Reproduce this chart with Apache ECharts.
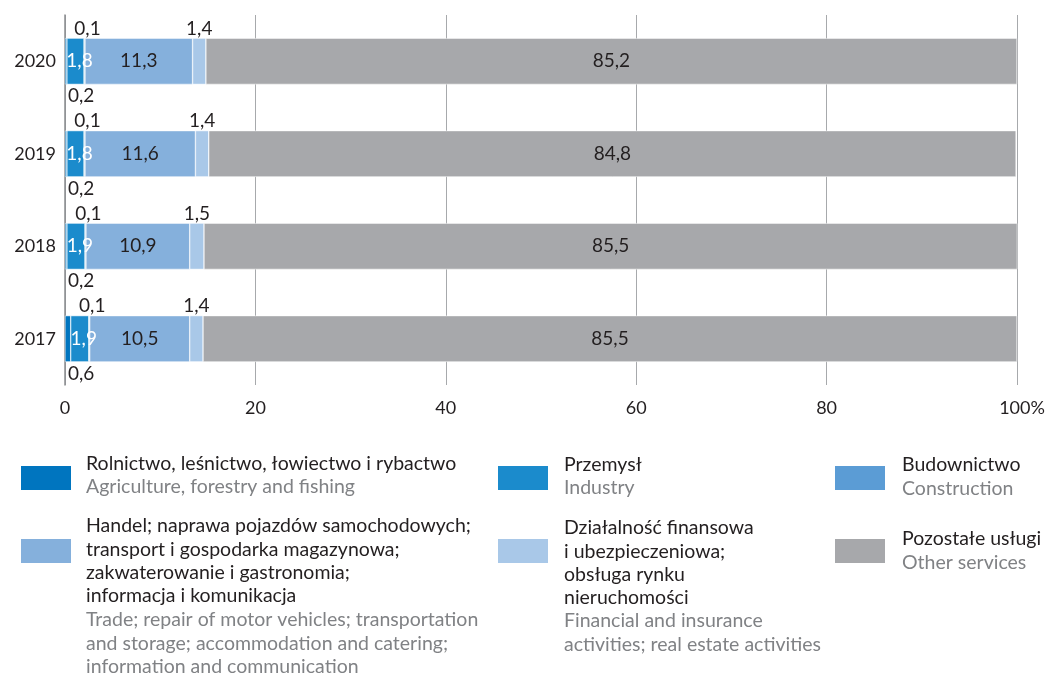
<!DOCTYPE html>
<html>
<head>
<meta charset="utf-8">
<script src="https://cdn.jsdelivr.net/npm/echarts@6/dist/echarts.min.js"></script>
<style>
  html, body { margin: 0; padding: 0; background: #fff; }
  #chart { width: 1051px; height: 677px; }
</style>
</head>
<body>
<div id="chart"></div>
<script>
// lata (od dołu do góry)
const years = ['2017', '2018', '2019', '2020']

// udziały sekcji w %
const agriculture = [0.6, 0.2, 0.2, 0.2]
const industry = [1.9, 1.9, 1.8, 1.8]
const construction = [0.1, 0.1, 0.1, 0.1]
const trade = [10.5, 10.9, 11.6, 11.3]
const finance = [1.4, 1.5, 1.4, 1.4]
const otherServices = [85.5, 85.5, 84.8, 85.2]

const xTicks = [0, 20, 40, 60, 80, 100]

// nazwy serii i opisy legendy
const seriesNames = ['Rolnictwo', 'Przemysł', 'Budownictwo', 'Handel', 'Działalność finansowa', 'Pozostałe usługi']
const legendPl = [
  'Rolnictwo, leśnictwo, łowiectwo i rybactwo',
  'Przemysł',
  'Budownictwo',
  'Handel; naprawa pojazdów samochodowych;\ntransport i gospodarka magazynowa;\nzakwaterowanie i gastronomia;\ninformacja i komunikacja',
  'Działalność finansowa\ni ubezpieczeniowa;\nobsługa rynku\nnieruchomości',
  'Pozostałe usługi'
]
const legendEn = [
  'Agriculture, forestry and fishing',
  'Industry',
  'Construction',
  'Trade; repair of motor vehicles; transportation\nand storage; accommodation and catering;\ninformation and communication',
  'Financial and insurance\nactivities; real estate activities',
  'Other services'
]

const colors = ['#0075bf', '#1b8bcc', '#5b9cd5', '#85b0dc', '#a9c8e8', '#a7a8ab']

const FONT = 'Lato'
const dark = '#231f20'
const grey = '#808285'

const fmt = v => String(v).replace('.', ',')

const chart = echarts.init(document.getElementById('chart'), null, { renderer: 'canvas' })

const baseLabel = {
  show: true,
  fontFamily: FONT,
  fontSize: 19,
  color: dark,
  formatter: p => fmt(p.value)
}

const makeSeries = (idx, data, label) => ({
  name: seriesNames[idx],
  type: 'bar',
  stack: 'total',
  barWidth: '50%',
  data: data,
  itemStyle: { color: colors[idx], borderColor: '#fff', borderWidth: 0.5 },
  label: Object.assign({}, baseLabel, label),
  emphasis: { disabled: true },
  silent: true
})

const series = [
  makeSeries(0, agriculture, { position: [3, '100%'], align: 'left', verticalAlign: 'top', offset: [0, 2] }),
  makeSeries(1, industry, { position: 'inside', color: '#fff', offset: [4, 0] }),
  makeSeries(2, construction, { position: 'top', distance: 0, offset: [3, 0] }),
  makeSeries(3, trade, { position: 'inside' }),
  makeSeries(4, finance, { position: 'top', distance: 0 }),
  makeSeries(5, otherServices, { position: 'inside' })
]

// legenda: kwadraty z komponentu legend, opisy jako tekst
const legendPos = [
  [19, 464, 86, 464, 487],
  [496, 464, 564, 465, 488],
  [833, 464, 902, 465, 489],
  [19, 537, 86, 526, 620],
  [496, 537, 564, 528, 621],
  [833, 537, 902, 539, 563]
]

const legends = seriesNames.map((name, i) => ({
  data: [name],
  left: legendPos[i][0],
  top: legendPos[i][1],
  padding: 0,
  itemWidth: 52,
  itemHeight: 26,
  icon: 'rect',
  selectedMode: false,
  formatter: () => '',
  textStyle: { fontSize: 1 }
}))

const LH = 23.3
const LEGEND_FONT = '19.5px ' + FONT
const legendTexts = []
seriesNames.forEach((name, i) => {
  const p = legendPos[i]
  legendTexts.push({
    type: 'text',
    left: p[2],
    top: p[3] - LH / 2,
    style: { text: legendPl[i], font: LEGEND_FONT, fill: dark, lineHeight: LH }
  })
  legendTexts.push({
    type: 'text',
    left: p[2],
    top: p[4] - LH / 2,
    style: { text: legendEn[i], font: LEGEND_FONT, fill: grey, lineHeight: LH }
  })
})

const option = {
  animation: false,
  textStyle: { fontFamily: FONT },
  grid: { left: 65, right: 34, top: 15, bottom: 292, containLabel: false },
  xAxis: {
    type: 'value',
    min: xTicks[0],
    max: xTicks[xTicks.length - 1],
    interval: 20,
    axisLine: { show: false },
    axisTick: { show: false },
    splitLine: { show: true, lineStyle: { color: '#a7a9ac', width: 1 } },
    axisLabel: {
      fontFamily: FONT,
      fontSize: 18,
      color: dark,
      margin: 14,
      formatter: v => (v === 100 ? '{p|100%}' : String(v)),
      rich: { p: { fontFamily: FONT, fontSize: 18, color: dark, padding: [0, 0, 0, 10] } }
    }
  },
  yAxis: {
    type: 'category',
    data: years,
    axisLine: { show: true, lineStyle: { color: '#8a8c8f', width: 1.5 } },
    axisTick: { show: false },
    axisLabel: { fontFamily: FONT, fontSize: 18, color: dark, margin: 9 }
  },
  legend: legends,
  graphic: legendTexts,
  series
}

chart.setOption(option)
</script>
</body>
</html>
